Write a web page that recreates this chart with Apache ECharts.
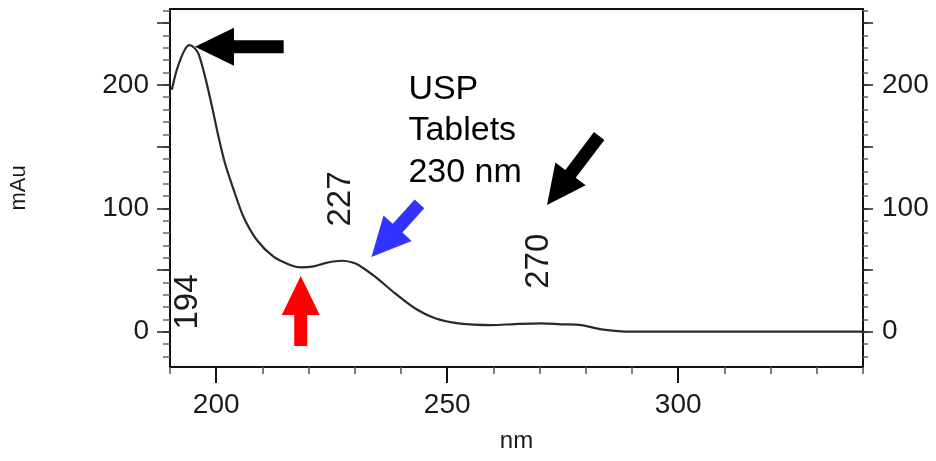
<!DOCTYPE html>
<html>
<head>
<meta charset="utf-8">
<script src="https://cdn.jsdelivr.net/npm/echarts@6/dist/echarts.min.js"></script>
<style>
  html, body { margin: 0; padding: 0; background: #fff; }
  #chart { width: 936px; height: 461px; }
</style>
</head>
<body>
<div id="chart"></div>
<script>
// spectrum: [nm, mAu]
var spectrum = [
  [190.4, 196], [191.3, 210], [192.2, 220], [193.2, 228.5], [194.2, 232.2],
  [195.2, 230.3], [196.2, 225], [197.6, 206.5], [199.1, 182.3], [200.5, 158],
  [201.9, 136.5], [203.8, 114.8], [205.9, 93.2], [208.8, 74.3], [212.4, 60.8],
  [216.0, 54.1], [218.2, 52.2], [221.1, 52.9], [223.2, 55.2], [225.3, 56.9],
  [227.5, 57.5], [229.3, 56.3], [230.8, 54.1], [234.4, 44.6], [238.7, 31.1],
  [243.0, 19.0], [247.4, 10.9], [252.4, 6.8], [259.6, 5.4], [264.6, 6.2],
  [270.4, 6.8], [274.7, 6.0], [279.0, 5.4], [283.4, 1.9], [287.7, 0.2],
  [290, 0], [300, 0], [320, 0], [340, 0]
];

// tick values
var xMinorTicks = [190, 210, 220, 230, 240, 260, 270, 280, 290, 310, 320, 330, 340];
var xMajorTicks = [200, 250, 300];
var xLabels = [200, 250, 300];
var yMinorTicks = [-20, -10, 0, 10, 20, 30, 40, 50, 60, 70, 80, 90, 100, 110, 120, 130, 140, 150,
  160, 170, 180, 190, 200, 210, 220, 230, 240, 250, 260];
var yMidTicks = [0, 50, 100, 150, 200, 250];
var yLabels = [0, 100, 200];

// peak labels: [nm, mAu] centre of rotated text
var peakPos = [[193.9, 24.1], [226.9, 107.5], [269.9, 57.1]];
var peakText = ['194', '227', '270'];
// note text: [nm, mAu] left/middle of the block
var notePos = [[241.6, 162.6]];
var noteText = ['USP\nTablets\n230 nm'];

// arrows: [tailNm, tailMAu, tipNm, tipMAu]
var arrowsBlack = [[214.6, 231, 195.4, 231], [282.9, 158.6, 271.6, 102.7]];
var arrowsRed = [[218.3, -11.6, 218.3, 45.1]];
var arrowsBlue = [[244.0, 103.5, 233.6, 60.5]];

var X_MIN = 190, X_MAX = 340, Y_MIN = -28.6, Y_MAX = 261.5;
var FONT = 'Liberation Sans, Arial, Helvetica, sans-serif';
var TXT = '#1a1a1a';

var chart = echarts.init(document.getElementById('chart'));

function arrowSeries(data, color) {
  return {
    type: 'custom',
    data: data,
    clip: false,
    silent: true,
    encode: { x: [0, 2], y: [1, 3] },
    renderItem: function (params, api) {
      var p0 = api.coord([api.value(0), api.value(1)]);
      var p1 = api.coord([api.value(2), api.value(3)]);
      var dx = p1[0] - p0[0], dy = p1[1] - p0[1];
      var len = Math.sqrt(dx * dx + dy * dy);
      var ux = dx / len, uy = dy / len;
      var nx = -uy, ny = ux;
      var w = 6.5, hw = 19, hl = 39;
      var sx = p1[0] - ux * hl, sy = p1[1] - uy * hl;
      return {
        type: 'polygon',
        shape: {
          points: [
            [p0[0] + nx * w, p0[1] + ny * w],
            [sx + nx * w, sy + ny * w],
            [sx + nx * hw, sy + ny * hw],
            [p1[0], p1[1]],
            [sx - nx * hw, sy - ny * hw],
            [sx - nx * w, sy - ny * w],
            [p0[0] - nx * w, p0[1] - ny * w]
          ]
        },
        style: { fill: color }
      };
    },
    z: 5
  };
}

function textSeries(pos, texts, opts) {
  return {
    type: 'custom',
    data: pos,
    clip: false,
    silent: true,
    renderItem: function (params, api) {
      var p = api.coord([api.value(0), api.value(1)]);
      return {
        type: 'text',
        x: p[0],
        y: p[1],
        rotation: opts.rotation,
        style: {
          text: texts[params.dataIndex],
          fontSize: opts.fontSize,
          fontFamily: FONT,
          fill: opts.color,
          align: opts.align,
          verticalAlign: 'middle',
          lineHeight: opts.lineHeight
        }
      };
    },
    z: 6
  };
}

function xAx(extra) {
  return Object.assign({
    type: 'value', min: X_MIN, max: X_MAX, position: 'bottom',
    splitLine: { show: false },
    axisLine: { show: false, onZero: false },
    axisTick: { show: false },
    axisLabel: { show: false }
  }, extra);
}
function yAx(extra) {
  return Object.assign({
    type: 'value', min: Y_MIN, max: Y_MAX, position: 'left',
    splitLine: { show: false },
    axisLine: { show: false, onZero: false },
    axisTick: { show: false },
    axisLabel: { show: false }
  }, extra);
}

chart.setOption({
  animation: false,
  grid: { left: 168, right: 73, top: 9, bottom: 94 },
  xAxis: [
    xAx({
      name: 'nm',
      nameLocation: 'middle',
      nameGap: 62,
      nameTextStyle: { color: TXT, fontSize: 24, fontFamily: FONT },
      axisLine: { show: true, onZero: false, lineStyle: { color: '#111', width: 2 } },
      axisTick: { show: true, customValues: xMajorTicks, length: 16, lineStyle: { color: '#111', width: 2 } },
      axisLabel: { show: true, customValues: xLabels, margin: 24, color: TXT, fontSize: 28, fontFamily: FONT }
    }),
    xAx({
      axisTick: { show: true, customValues: xMinorTicks, length: 7, lineStyle: { color: '#555', width: 1.5 } }
    }),
    xAx({
      position: 'top',
      axisLine: { show: true, onZero: false, lineStyle: { color: '#111', width: 2 } }
    })
  ],
  yAxis: [
    yAx({
      name: 'mAu',
      nameLocation: 'middle',
      nameGap: 140,
      nameTextStyle: { color: TXT, fontSize: 22, fontFamily: FONT },
      axisLine: { show: true, onZero: false, lineStyle: { color: '#111', width: 2 } },
      axisTick: { show: true, customValues: yMinorTicks, length: 7, lineStyle: { color: '#666', width: 1.5 } },
      axisLabel: { show: true, customValues: yLabels, margin: 21, color: TXT, fontSize: 28, fontFamily: FONT }
    }),
    yAx({
      axisTick: { show: true, customValues: yMidTicks, length: 13, lineStyle: { color: '#222', width: 1.5 } }
    }),
    yAx({
      position: 'right',
      axisLine: { show: true, onZero: false, lineStyle: { color: '#111', width: 2 } },
      axisTick: { show: true, customValues: yMinorTicks, length: 5, lineStyle: { color: '#666', width: 1.5 } },
      axisLabel: { show: true, customValues: yLabels, margin: 19, color: TXT, fontSize: 28, fontFamily: FONT }
    }),
    yAx({
      position: 'right',
      axisTick: { show: true, customValues: yMidTicks, length: 10, lineStyle: { color: '#222', width: 1.5 } }
    })
  ],
  series: [
    {
      type: 'line',
      data: spectrum,
      symbol: 'none',
      smooth: 0.3,
      lineStyle: { color: '#2a2a2a', width: 2.2 },
      z: 3
    },
    textSeries(peakPos, peakText, { rotation: Math.PI / 2, fontSize: 33, color: TXT, align: 'center' }),
    textSeries(notePos, noteText, { rotation: 0, fontSize: 34, color: '#000', align: 'left', lineHeight: 41.5 }),
    arrowSeries(arrowsBlack, '#000'),
    arrowSeries(arrowsRed, '#ff0000'),
    arrowSeries(arrowsBlue, '#3333ff')
  ]
});
</script>
</body>
</html>
